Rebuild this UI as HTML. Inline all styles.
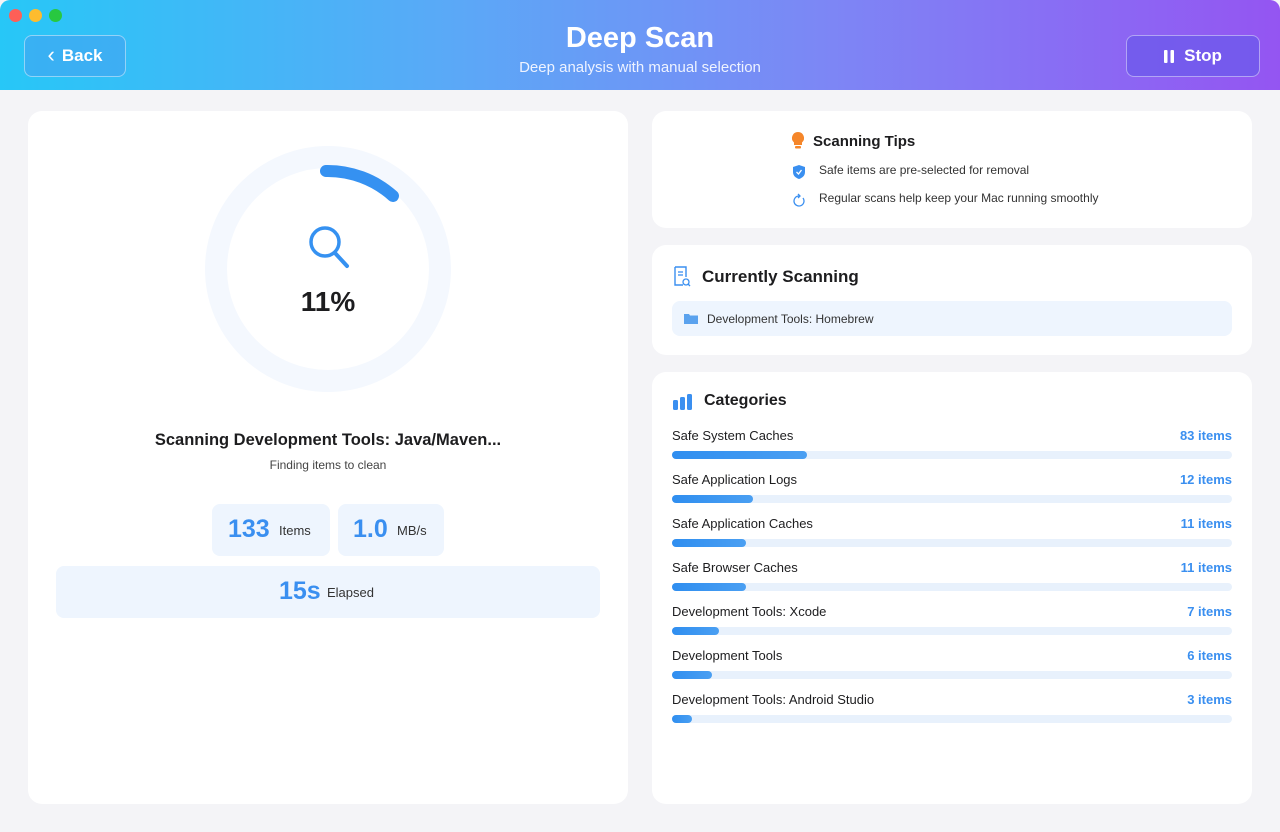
<!DOCTYPE html>
<html><head><meta charset="utf-8"><style>
*{margin:0;padding:0;box-sizing:border-box}
body{width:1280px;height:832px;overflow:hidden;background:#f4f4f7;font-family:"Liberation Sans",sans-serif;position:relative;color:#1d1d1f}
.hdr{position:absolute;left:0;top:0;width:1280px;height:90px;background:linear-gradient(90deg,#27c7f7 0%,#5aa9f7 35%,#7d86f5 65%,#9455f2 100%);border-radius:10px 10px 0 0}
.a{position:absolute}
.dot{position:absolute;top:9px;width:13px;height:13px;border-radius:50%}
.btn{position:absolute;border:1px solid rgba(255,255,255,.45);border-radius:8px;color:#fff;font-weight:bold;font-size:17px;display:flex;align-items:center;justify-content:center}
.card{position:absolute;background:#fff;border-radius:14px}
.t{position:absolute;white-space:nowrap}
.track{position:absolute;left:672px;width:560px;height:8px;border-radius:4px;background:#e8f1fc}
.fill{height:8px;border-radius:4px;background:linear-gradient(90deg,#2f8ef0,#4a9ff2)}
.lbl{position:absolute;left:672px;font-size:13px;color:#1d1d1f}
.cnt{position:absolute;right:48px;font-size:13px;font-weight:bold;color:#3a8ff0}
</style></head><body>
<div class="hdr"></div>
<div class="dot" style="left:9px;background:#fe5f57"></div>
<div class="dot" style="left:29px;background:#febc2e"></div>
<div class="dot" style="left:49px;background:#28c840"></div>
<div class="btn" style="left:24px;top:35px;width:102px;height:42px;background:rgba(70,160,240,.55)"><span style="font-size:22px;font-weight:normal;margin-right:7px;margin-top:-3px">‹</span>Back</div>
<div class="t" style="left:0;width:1280px;top:22px;text-align:center;color:#fff;font-size:29px;font-weight:bold">Deep Scan</div>
<div class="t" style="left:0;width:1280px;top:59px;text-align:center;color:#eef3ff;font-size:15px">Deep analysis with manual selection</div>
<div class="btn" style="left:1126px;top:35px;width:134px;height:42px;background:rgba(110,90,235,.8)"><svg width="10" height="13" style="margin-right:10px"><rect x="0" y="0" width="3.5" height="13" rx="1" fill="#fff"/><rect x="6.5" y="0" width="3.5" height="13" rx="1" fill="#fff"/></svg>Stop</div>

<div class="card" style="left:28px;top:111px;width:600px;height:693px"></div>
<svg class="a" style="left:0;top:0" width="640" height="420">
<circle cx="328" cy="269" r="112" fill="none" stroke="#f4f8fe" stroke-width="22"/>
<path d="M326 171 A98 98 0 0 1 393 196" fill="none" stroke="#3591f1" stroke-width="12" stroke-linecap="round"/>
<circle cx="325" cy="242" r="14" fill="none" stroke="#3591f1" stroke-width="3.5"/>
<line x1="335" y1="253" x2="347" y2="266" stroke="#3591f1" stroke-width="4" stroke-linecap="round"/>
</svg>
<div class="t" style="left:228px;width:200px;top:286px;text-align:center;font-size:28px;font-weight:bold">11%</div>
<div class="t" style="left:28px;width:600px;top:431px;text-align:center;font-size:16.5px;font-weight:bold">Scanning Development Tools: Java/Maven...</div>
<div class="t" style="left:28px;width:600px;top:458px;text-align:center;font-size:12px;color:#444">Finding items to clean</div>
<div class="a" style="left:212px;top:504px;width:118px;height:52px;background:#eef5fe;border-radius:8px"></div>
<div class="t" style="left:228px;top:515px;font-size:25px;font-weight:bold;color:#3a8ff0">133</div>
<div class="t" style="left:279px;top:523px;font-size:13px;color:#333">Items</div>
<div class="a" style="left:338px;top:504px;width:106px;height:52px;background:#eef5fe;border-radius:8px"></div>
<div class="t" style="left:353px;top:515px;font-size:25px;font-weight:bold;color:#3a8ff0">1.0</div>
<div class="t" style="left:397px;top:523px;font-size:13px;color:#333">MB/s</div>
<div class="a" style="left:56px;top:566px;width:544px;height:52px;background:#eef5fe;border-radius:8px"></div>
<div class="t" style="left:279px;top:577px;font-size:25px;font-weight:bold;color:#3a8ff0">15s</div>
<div class="t" style="left:327px;top:585px;font-size:13px;color:#333">Elapsed</div>

<div class="card" style="left:652px;top:111px;width:600px;height:117px"></div>
<svg class="a" style="left:790px;top:131px" width="16" height="20"><path d="M8 1a6 6 0 0 1 4 10.5V14H4v-2.5A6 6 0 0 1 8 1z" fill="#f5862a"/><rect x="5" y="15" width="6" height="2.5" rx="1" fill="#f5862a"/></svg>
<div class="t" style="left:813px;top:133px;font-size:15px;font-weight:bold">Scanning Tips</div>
<svg class="a" style="left:793px;top:165px" width="12" height="14"><path d="M6 0l6 2v5c0 4-3 6-6 7-3-1-6-3-6-7V2z" fill="#3a8ff0"/><path d="M3.5 7l2 2 3-4" stroke="#fff" stroke-width="1.3" fill="none"/></svg>
<div class="t" style="left:819px;top:163px;font-size:12px;color:#333">Safe items are pre-selected for removal</div>
<svg class="a" style="left:793px;top:193px" width="13" height="14"><path d="M10 5a5 5 0 1 1-4-2" stroke="#3a8ff0" stroke-width="1.3" fill="none"/><path d="M5 1l2 2-2 2" stroke="#3a8ff0" stroke-width="1.3" fill="none"/></svg>
<div class="t" style="left:819px;top:191px;font-size:12px;color:#333">Regular scans help keep your Mac running smoothly</div>

<div class="card" style="left:652px;top:245px;width:600px;height:110px"></div>
<svg class="a" style="left:673px;top:266px" width="18" height="22"><path d="M2 1h11v10M2 1v18h8" stroke="#3a8ff0" stroke-width="1.4" fill="none"/><line x1="5" y1="6" x2="10" y2="6" stroke="#3a8ff0" stroke-width="1.3"/><line x1="5" y1="9" x2="10" y2="9" stroke="#3a8ff0" stroke-width="1.3"/><circle cx="13" cy="16" r="3" stroke="#3a8ff0" stroke-width="1.3" fill="none"/><line x1="15" y1="18" x2="17" y2="20" stroke="#3a8ff0" stroke-width="1.3"/></svg>
<div class="t" style="left:702px;top:267px;font-size:17px;font-weight:bold">Currently Scanning</div>
<div class="a" style="left:672px;top:301px;width:560px;height:35px;background:#eef5fe;border-radius:8px"></div>
<svg class="a" style="left:684px;top:313px" width="14" height="11"><path d="M0 1h5l1 1.5h8V11H0z" fill="#5aa2ee"/></svg>
<div class="t" style="left:707px;top:312px;font-size:12px;color:#333">Development Tools: Homebrew</div>

<div class="card" style="left:652px;top:372px;width:600px;height:432px"></div>
<svg class="a" style="left:673px;top:394px" width="22" height="16"><rect x="0" y="6" width="5" height="10" rx="1.5" fill="#3a8ff0"/><rect x="7" y="3" width="5" height="13" rx="1.5" fill="#3a8ff0"/><rect x="14" y="0" width="5" height="16" rx="1.5" fill="#3a8ff0"/></svg>
<div class="t" style="left:704px;top:392px;font-size:16px;font-weight:bold">Categories</div>

<div class="lbl" style="top:428px">Safe System Caches</div><div class="cnt" style="top:428px">83 items</div>
<div class="track" style="top:451px"><div class="fill" style="width:135px"></div></div>
<div class="lbl" style="top:472px">Safe Application Logs</div><div class="cnt" style="top:472px">12 items</div>
<div class="track" style="top:495px"><div class="fill" style="width:81px"></div></div>
<div class="lbl" style="top:516px">Safe Application Caches</div><div class="cnt" style="top:516px">11 items</div>
<div class="track" style="top:539px"><div class="fill" style="width:74px"></div></div>
<div class="lbl" style="top:560px">Safe Browser Caches</div><div class="cnt" style="top:560px">11 items</div>
<div class="track" style="top:583px"><div class="fill" style="width:74px"></div></div>
<div class="lbl" style="top:604px">Development Tools: Xcode</div><div class="cnt" style="top:604px">7 items</div>
<div class="track" style="top:627px"><div class="fill" style="width:47px"></div></div>
<div class="lbl" style="top:648px">Development Tools</div><div class="cnt" style="top:648px">6 items</div>
<div class="track" style="top:671px"><div class="fill" style="width:40px"></div></div>
<div class="lbl" style="top:692px">Development Tools: Android Studio</div><div class="cnt" style="top:692px">3 items</div>
<div class="track" style="top:715px"><div class="fill" style="width:20px"></div></div>
</body></html>
